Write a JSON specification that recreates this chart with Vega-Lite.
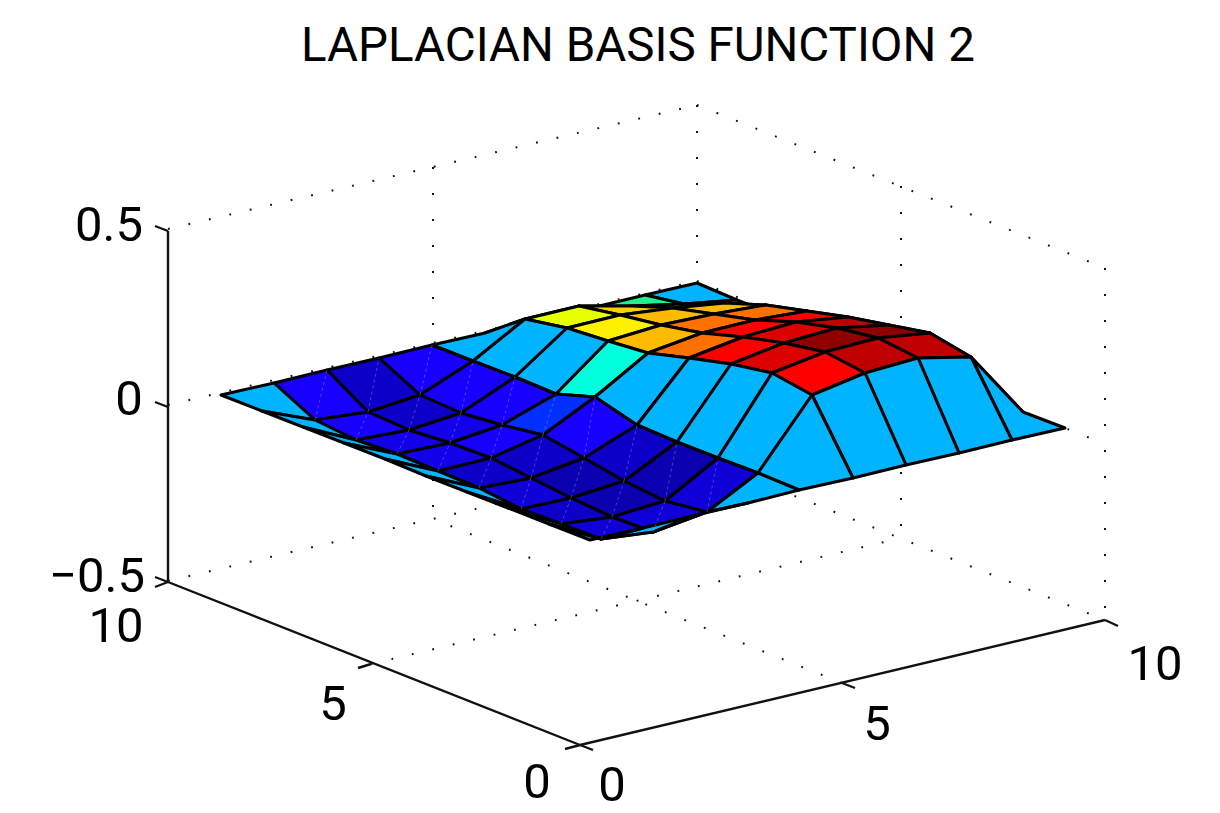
{
"$schema":"https://vega.github.io/schema/vega-lite/v6.json",
"width":1220,"height":813,"autosize":{"type":"fit","contains":"padding"},"padding":0,"background":"white",
"config":{"view":{"stroke":null}},
"datasets":{
"vertices":[
{"v":0,"x":590,"y":540},{"v":1,"x":549,"y":524},{"v":2,"x":508,"y":508},{"v":3,"x":467,"y":492},{"v":4,"x":426,"y":476},{"v":5,"x":385,"y":459},{"v":6,"x":344,"y":443},{"v":7,"x":303,"y":427},{"v":8,"x":262,"y":411},{"v":9,"x":221,"y":395},
{"v":10,"x":643,"y":528},{"v":11,"x":601,"y":539},{"v":12,"x":561,"y":524},{"v":13,"x":521,"y":509},{"v":14,"x":479,"y":488},{"v":15,"x":438,"y":471},{"v":16,"x":397,"y":454},{"v":17,"x":356,"y":440},{"v":18,"x":315,"y":420},{"v":19,"x":274,"y":383},
{"v":20,"x":696,"y":515},{"v":21,"x":653,"y":532},{"v":22,"x":612,"y":517},{"v":23,"x":571,"y":498},{"v":24,"x":531,"y":478},{"v":25,"x":491,"y":458},{"v":26,"x":450,"y":443},{"v":27,"x":409,"y":430},{"v":28,"x":368,"y":412},{"v":29,"x":327,"y":370},
{"v":30,"x":748,"y":503},{"v":31,"x":707,"y":512},{"v":32,"x":665,"y":501},{"v":33,"x":624,"y":481},{"v":34,"x":584,"y":458},{"v":35,"x":543,"y":435},{"v":36,"x":502,"y":425},{"v":37,"x":461,"y":413},{"v":38,"x":420,"y":395},{"v":39,"x":379,"y":358},
{"v":40,"x":799,"y":490},{"v":41,"x":758,"y":473},{"v":42,"x":718,"y":458},{"v":43,"x":677,"y":442},{"v":44,"x":637,"y":425},{"v":45,"x":595,"y":397},{"v":46,"x":556,"y":394},{"v":47,"x":515,"y":377},{"v":48,"x":473,"y":361},{"v":49,"x":432,"y":345},
{"v":50,"x":853,"y":478},{"v":51,"x":812,"y":395},{"v":52,"x":772,"y":373},{"v":53,"x":731,"y":364},{"v":54,"x":689,"y":358},{"v":55,"x":648,"y":353},{"v":56,"x":608,"y":341},{"v":57,"x":567,"y":328},{"v":58,"x":525,"y":319},{"v":59,"x":485,"y":333},
{"v":60,"x":906,"y":465},{"v":61,"x":865,"y":373},{"v":62,"x":825,"y":352},{"v":63,"x":784,"y":343},{"v":64,"x":743,"y":337},{"v":65,"x":702,"y":333},{"v":66,"x":661,"y":325},{"v":67,"x":620,"y":315},{"v":68,"x":579,"y":306},{"v":69,"x":538,"y":321},
{"v":70,"x":959,"y":453},{"v":71,"x":918,"y":358},{"v":72,"x":878,"y":338},{"v":73,"x":837,"y":328},{"v":74,"x":796,"y":322},{"v":75,"x":755,"y":320},{"v":76,"x":714,"y":314},{"v":77,"x":673,"y":308},{"v":78,"x":632,"y":306},{"v":79,"x":591,"y":308},
{"v":80,"x":1012,"y":440},{"v":81,"x":971,"y":357},{"v":82,"x":930,"y":333},{"v":83,"x":889,"y":325},{"v":84,"x":848,"y":317},{"v":85,"x":807,"y":311},{"v":86,"x":766,"y":305},{"v":87,"x":725,"y":303},{"v":88,"x":684,"y":304},{"v":89,"x":645,"y":295},
{"v":90,"x":1065,"y":428},{"v":91,"x":1023,"y":412},{"v":92,"x":983,"y":396},{"v":93,"x":942,"y":380},{"v":94,"x":901,"y":364},{"v":95,"x":860,"y":348},{"v":96,"x":819,"y":332},{"v":97,"x":778,"y":316},{"v":98,"x":737,"y":300},{"v":99,"x":697,"y":283}
],
"cells":[
{"z":0,"c":88,"v":[88,98,99,89],"k":[0,1,2,3]},
{"z":0.08,"c":87,"v":[87,97,98,88],"k":[0,1,2,3]},
{"z":0.08,"c":78,"v":[78,88,89,79],"k":[0,1,2,3]},
{"z":0,"c":86,"v":[86,96,97,87],"k":[0,1,2,3]},
{"z":0.16,"c":77,"v":[77,87,88,78],"k":[0,1,2,3]},
{"z":0.08,"c":68,"v":[68,78,79,69],"k":[0,1,2,3]},
{"z":0,"c":85,"v":[85,95,96,86],"k":[0,1,2,3]},
{"z":0.18,"c":76,"v":[76,86,87,77],"k":[0,1,2,3]},
{"z":0.16,"c":67,"v":[67,77,78,68],"k":[0,1,2,3]},
{"z":0,"c":58,"v":[58,68,69,59],"k":[0,1,2,3]},
{"z":0,"c":84,"v":[84,94,95,85],"k":[0,1,2,3]},
{"z":0.2,"c":75,"v":[75,85,86,76],"k":[0,1,2,3]},
{"z":0.18,"c":66,"v":[66,76,77,67],"k":[0,1,2,3]},
{"z":0.12,"c":57,"v":[57,67,68,58],"k":[0,1,2,3]},
{"z":0,"c":48,"v":[48,58,59,49],"k":[0,1,2,3]},
{"z":0,"c":83,"v":[83,93,94,84],"k":[0,1,2,3]},
{"z":0.22,"c":74,"v":[74,84,85,75],"k":[0,1,2,3]},
{"z":0.2,"c":65,"v":[65,75,76,66],"k":[0,1,2,3]},
{"z":0.14,"c":56,"v":[56,66,67,57],"k":[0,1,2,3]},
{"z":0,"c":47,"v":[47,57,58,48],"k":[0,1,2,3]},
{"z":-0.2,"c":38,"v":[38,48,49,39],"k":[0,1,2,3]},
{"z":0,"c":82,"v":[82,92,93,83],"k":[0,1,2,3]},
{"z":0.26,"c":73,"v":[73,83,84,74],"k":[0,1,2,3]},
{"z":0.22,"c":64,"v":[64,74,75,65],"k":[0,1,2,3]},
{"z":0.18,"c":55,"v":[55,65,66,56],"k":[0,1,2,3]},
{"z":0,"c":46,"v":[46,56,57,47],"k":[0,1,2,3]},
{"z":-0.2,"c":37,"v":[37,47,48,38],"k":[0,1,2,3]},
{"z":-0.27,"c":28,"v":[28,38,39,29],"k":[0,1,2,3]},
{"z":0,"c":81,"v":[81,91,92,82],"k":[0,1,2,3]},
{"z":0.28,"c":72,"v":[72,82,83,73],"k":[0,1,2,3]},
{"z":0.24,"c":63,"v":[63,73,74,64],"k":[0,1,2,3]},
{"z":0.2,"c":54,"v":[54,64,65,55],"k":[0,1,2,3]},
{"z":0.05,"c":45,"v":[45,55,56,46],"k":[0,1,2,3]},
{"z":-0.2,"c":36,"v":[36,46,47,37],"k":[0,1,2,3]},
{"z":-0.27,"c":27,"v":[27,37,38,28],"k":[0,1,2,3]},
{"z":-0.2,"c":18,"v":[18,28,29,19],"k":[0,1,2,3]},
{"z":0,"c":80,"v":[80,90,91,81],"k":[0,1,2,3]},
{"z":0.26,"c":71,"v":[71,81,82,72],"k":[0,1,2,3]},
{"z":0.28,"c":62,"v":[62,72,73,63],"k":[0,1,2,3]},
{"z":0.22,"c":53,"v":[53,63,64,54],"k":[0,1,2,3]},
{"z":0,"c":44,"v":[44,54,55,45],"k":[0,1,2,3]},
{"z":-0.15,"c":35,"v":[35,45,46,36],"k":[0,1,2,3]},
{"z":-0.22,"c":26,"v":[26,36,37,27],"k":[0,1,2,3]},
{"z":-0.2,"c":17,"v":[17,27,28,18],"k":[0,1,2,3]},
{"z":0,"c":8,"v":[8,18,19,9],"k":[0,1,2,3]},
{"z":0,"c":70,"v":[70,80,81,71],"k":[0,1,2,3]},
{"z":0.26,"c":61,"v":[61,71,72,62],"k":[0,1,2,3]},
{"z":0.24,"c":52,"v":[52,62,63,53],"k":[0,1,2,3]},
{"z":0,"c":43,"v":[43,53,54,44],"k":[0,1,2,3]},
{"z":-0.2,"c":34,"v":[34,44,45,35],"k":[0,1,2,3]},
{"z":-0.2,"c":25,"v":[25,35,36,26],"k":[0,1,2,3]},
{"z":-0.22,"c":16,"v":[16,26,27,17],"k":[0,1,2,3]},
{"z":0,"c":7,"v":[7,17,18,8],"k":[0,1,2,3]},
{"z":0,"c":60,"v":[60,70,71,61],"k":[0,1,2,3]},
{"z":0.22,"c":51,"v":[51,61,62,52],"k":[0,1,2,3]},
{"z":0,"c":42,"v":[42,52,53,43],"k":[0,1,2,3]},
{"z":-0.27,"c":33,"v":[33,43,44,34],"k":[0,1,2,3]},
{"z":-0.27,"c":24,"v":[24,34,35,25],"k":[0,1,2,3]},
{"z":-0.22,"c":15,"v":[15,25,26,16],"k":[0,1,2,3]},
{"z":0,"c":6,"v":[6,16,17,7],"k":[0,1,2,3]},
{"z":0,"c":50,"v":[50,60,61,51],"k":[0,1,2,3]},
{"z":0,"c":41,"v":[41,51,52,42],"k":[0,1,2,3]},
{"z":-0.3,"c":32,"v":[32,42,43,33],"k":[0,1,2,3]},
{"z":-0.3,"c":23,"v":[23,33,34,24],"k":[0,1,2,3]},
{"z":-0.25,"c":13,"v":[13,23,24,14],"k":[0,1,2,3]},
{"z":-0.27,"c":14,"v":[14,24,25,15],"k":[0,1,2,3]},
{"z":0,"c":5,"v":[5,15,16,6],"k":[0,1,2,3]},
{"z":0,"c":40,"v":[40,50,51,41],"k":[0,1,2,3]},
{"z":-0.25,"c":31,"v":[31,41,42,32],"k":[0,1,2,3]},
{"z":-0.3,"c":22,"v":[22,32,33,23],"k":[0,1,2,3]},
{"z":0,"c":4,"v":[4,14,15,5],"k":[0,1,2,3]},
{"z":0,"c":30,"v":[30,40,41,31],"k":[0,1,2,3]},
{"z":-0.25,"c":21,"v":[21,31,32,22],"k":[0,1,2,3]},
{"z":-0.27,"c":12,"v":[12,22,23,13],"k":[0,1,2,3]},
{"z":0,"c":3,"v":[3,13,14,4],"k":[0,1,2,3]},
{"z":0,"c":20,"v":[20,30,31,21],"k":[0,1,2,3]},
{"z":-0.25,"c":11,"v":[11,21,22,12],"k":[0,1,2,3]},
{"z":0,"c":2,"v":[2,12,13,3],"k":[0,1,2,3]},
{"z":0,"c":10,"v":[10,20,21,11],"k":[0,1,2,3]},
{"z":0,"c":1,"v":[1,11,12,2],"k":[0,1,2,3]},
{"z":0,"c":0,"v":[0,10,11,1],"k":[0,1,2,3]}
],
"dotsSlant":[
{"x":168,"y":229,"x2":697,"y2":105},{"x":697,"y":105,"x2":1105,"y2":268},
{"x":168,"y":405,"x2":697,"y2":281},{"x":697,"y":281,"x2":1105,"y2":444},
{"x":168,"y":581,"x2":697,"y2":457},{"x":697,"y":457,"x2":1105,"y2":620},
{"x":371,"y":664,"x2":901,"y2":538},{"x":842,"y":683,"x2":433,"y2":519}
],
"dotsVertical":[
{"x":433,"y":167,"x2":433,"y2":519},{"x":697,"y":105,"x2":697,"y2":457},{"x":901,"y":186,"x2":901,"y2":538},{"x":1105,"y":268,"x2":1105,"y2":620}
],
"frame":[
{"x":168,"y":231,"x2":168,"y2":582},
{"x":168,"y":582,"x2":580,"y2":745},
{"x":580,"y":745,"x2":1105,"y2":620},
{"x":155,"y":226,"x2":168,"y2":231},
{"x":155,"y":402,"x2":168,"y2":407},
{"x":155,"y":577,"x2":168,"y2":582},
{"x":155,"y":587,"x2":168,"y2":582},
{"x":358,"y":668,"x2":371,"y2":664},
{"x":565,"y":749,"x2":580,"y2":745},
{"x":580,"y":745,"x2":593,"y2":750},
{"x":842,"y":683,"x2":855,"y2":688},
{"x":1105,"y":620,"x2":1118,"y2":626}
],
"labels":[
{"t":"0.5","x":109,"y":226},{"t":"0","x":129,"y":400},{"t":"−0.5","x":97,"y":577},
{"t":"10","x":116,"y":627},{"t":"5","x":333,"y":705},{"t":"0","x":537,"y":783},
{"t":"0","x":612,"y":786},{"t":"5","x":877,"y":725},{"t":"10","x":1155,"y":665}
],
"titleRow":[{"t":"LAPLACIAN BASIS FUNCTION 2","x":638,"y":61}]
},
"encoding":{
"x":{"field":"x","type":"quantitative","scale":{"domain":[0,1220],"nice":false,"zero":false},"axis":null},
"y":{"field":"y","type":"quantitative","scale":{"domain":[813,0],"nice":false,"zero":false},"axis":null}
},
"layer":[
{"data":{"name":"dotsSlant"},"mark":{"type":"rule","stroke":"#111","strokeWidth":2,"strokeDash":[1.8,19.2]},"encoding":{"x2":{"field":"x2"},"y2":{"field":"y2"}}},
{"data":{"name":"dotsVertical"},"mark":{"type":"rule","stroke":"#111","strokeWidth":2,"strokeDash":[2,24]},"encoding":{"x2":{"field":"x2"},"y2":{"field":"y2"}}},
{"data":{"name":"frame"},"mark":{"type":"rule","stroke":"#111","strokeWidth":2.4},"encoding":{"x2":{"field":"x2"},"y2":{"field":"y2"}}},
{"data":{"name":"cells"},
"transform":[{"flatten":["v","k"]},{"lookup":"v","from":{"data":{"name":"vertices"},"key":"v","fields":["x","y"]}}],
"mark":{"type":"line","interpolate":"linear-closed","stroke":"#000","strokeWidth":3,"strokeJoin":"round"},
"encoding":{
"detail":{"field":"c"},
"order":{"field":"k","type":"quantitative"},
"fill":{"field":"z","type":"ordinal","legend":null,"scale":{
"domain":[-0.3,-0.27,-0.25,-0.22,-0.2,-0.15,0,0.05,0.08,0.12,0.14,0.16,0.18,0.2,0.22,0.24,0.26,0.28],
"range":["#0A00B0","#0C00C8","#1000D8","#1200E8","#1800FF","#0030FF","#00B4FF","#00FFDC","#20F090","#E8FF00","#FFF000","#FFD000","#FFBB00","#FF7000","#FF0000","#DD0000","#C00000","#900000"]}}
}},
{"data":{"name":"cells"},
"transform":[{"flatten":["v","k"]},{"lookup":"v","from":{"data":{"name":"vertices"},"key":"v","fields":["x","y"]}},{"filter":"(datum.k==0||datum.k==2)&&datum.z<0"}],
"mark":{"type":"line","stroke":"#ffffff","strokeOpacity":0.25,"strokeWidth":1,"strokeDash":[3,3]},
"encoding":{"detail":{"field":"c"},"order":{"field":"k","type":"quantitative"}}},
{"data":{"name":"labels"},"mark":{"type":"text","font":"Roboto","fontSize":49,"align":"center","baseline":"middle","fill":"#000"},"encoding":{"text":{"field":"t"}}},
{"data":{"name":"titleRow"},"mark":{"type":"text","font":"Roboto","fontSize":47.5,"align":"center","baseline":"alphabetic","fill":"#000"},"encoding":{"text":{"field":"t"}}}
]
}
